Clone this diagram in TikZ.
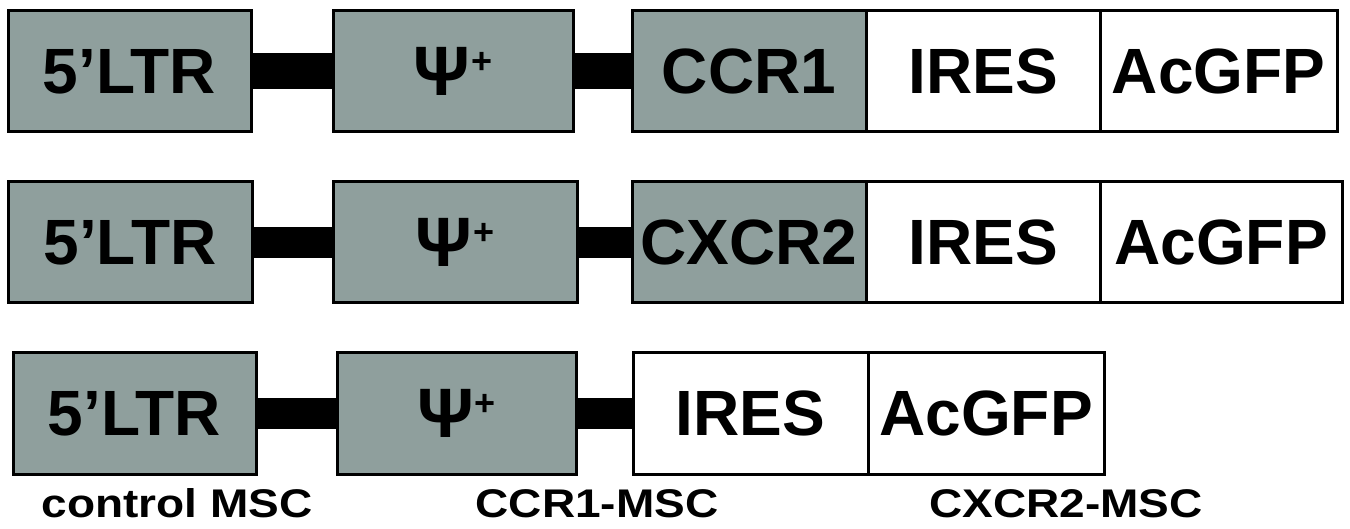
\documentclass[tikz,border=0pt]{standalone}
\usepackage{graphicx}
\usepackage{fontspec}
\setmainfont{Liberation Sans}
\definecolor{gfill}{RGB}{143,159,157}
\newcommand{\psip}{{\fontsize{70}{70}\selectfont\char"03A8}\kern1pt\raisebox{22pt}{\fontsize{36}{36}\selectfont +}}
\begin{document}
\begin{tikzpicture}[x=1pt,y=-1pt,
  seg/.style={draw=black, line width=3pt, inner sep=0pt, outer sep=0pt,
    minimum height=121pt, font=\fontsize{64}{64}\selectfont\bfseries},
  gbox/.style={seg, fill=gfill},
  wbox/.style={seg, fill=white},
  link/.style={draw=black, line width=#1, line cap=butt},
  lab/.style={font=\fontsize{40}{40}\selectfont\bfseries, anchor=base, inner sep=0pt}]
\useasboundingbox[fill=white] (0,0) rectangle (1350,529);
% Row 1
\node[gbox, minimum width=243pt] (L1) at (129.5,71.5) {5’LTR};
\node[gbox, minimum width=240pt] (P1) at (453,71.5) {\psip};
\node[gbox, minimum width=234pt] (C1) at (749,71.5) {CCR1};
\node[wbox, minimum width=234pt] (I1) at (983,71.5) {IRES};
\node[wbox, minimum width=237pt] (G1) at (1218.5,71.5) {AcGFP};
\draw[link=36pt] (L1.east) -- (P1.west);
\draw[link=36pt] (P1.east) -- (C1.west);
% Row 2
\node[gbox, minimum width=244pt] (L2) at (130,242.5) {5’LTR};
\node[gbox, minimum width=244pt] (P2) at (455,242.5) {\psip};
\node[gbox, minimum width=234pt] (X2) at (749,242.5) {CXCR2};
\node[wbox, minimum width=234pt] (I2) at (983,242.5) {IRES};
\node[wbox, minimum width=242pt] (G2) at (1221,242.5) {AcGFP};
\draw[link=31pt] (L2.east) -- (P2.west);
\draw[link=31pt] (P2.east) -- (X2.west);
% Row 3
\node[gbox, minimum width=243pt] (L3) at (134.5,413.5) {5’LTR};
\node[gbox, minimum width=239pt] (P3) at (456.5,413.5) {\psip};
\node[wbox, minimum width=235pt] (I3) at (750.5,413.5) {IRES};
\node[wbox, minimum width=236pt] (G3) at (986,413.5) {AcGFP};
\draw[link=31pt] (L3.east) -- (P3.west);
\draw[link=31pt] (P3.east) -- (I3.west);
% Labels
\node[lab] (T1) at (177,517) {\scalebox{1.15}[1]{control MSC}};
\node[lab] (T2) at (597,517) {\scalebox{1.15}[1]{CCR1-MSC}};
\node[lab] (T3) at (1066,517) {\scalebox{1.15}[1]{CXCR2-MSC}};
\end{tikzpicture}
\end{document}
